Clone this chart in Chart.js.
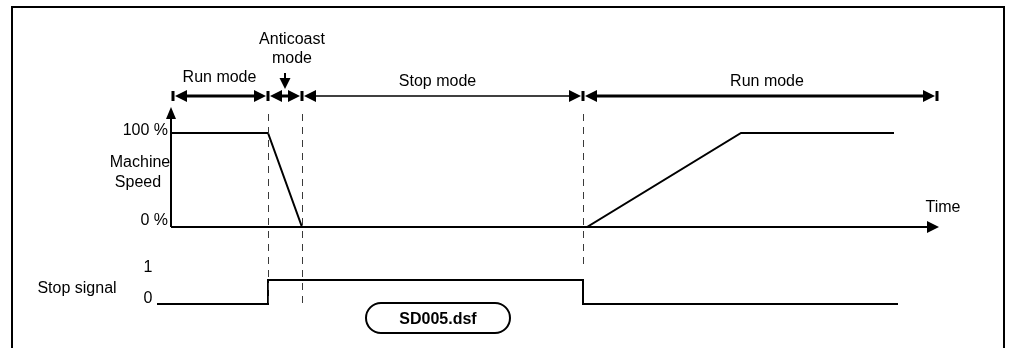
<!DOCTYPE html>
<html><head><meta charset="utf-8">
<script src="https://cdn.jsdelivr.net/npm/chart.js@4/dist/chart.umd.min.js"></script>
<style>html,body{margin:0;padding:0;background:#fff;} #wrap{width:1012px;height:348px;position:relative;}</style>
</head><body><div id="wrap"><canvas id="c"></canvas></div>
<script>
// Time in arbitrary units
const speedTimes = [0, 9.7, 13.1, 41.6, 57.0, 72.3];
const speedValues = [100, 100, 0, 0, 100, 100];
const signalTimes = [-1.4, 9.7, 9.7, 41.2, 41.2, 72.7];
const signalValues = [0, 0, 1, 1, 0, 0];
const modeBounds = [0.2, 9.7, 13.1, 41.2, 76.6];
const modeNames = ['Run mode', 'Anticoast\nmode', 'Stop mode', 'Run mode'];
const markerTimes = [9.7, 13.1, 41.2];
const speedTicks = [100, 0];
const speedTickLabels = ['100 %', '0 %'];
const signalTicks = [1, 0];
const signalTickLabels = ['1', '0'];
const timeAxisEnd = 76.8;
const speedTitle = ['Machine', 'Speed'];
const signalTitle = 'Stop signal';
const timeTitle = 'Time';
const fileLabel = 'SD005.dsf';

const FONT = '"Liberation Sans", Arial, sans-serif';
const toXY = (xs, ys) => xs.map((x, i) => ({x, y: ys[i]}));

function arrowHead(ctx, tipX, tipY, dir, len, half) {
  ctx.beginPath();
  if (dir === 'left') { ctx.moveTo(tipX, tipY); ctx.lineTo(tipX + len, tipY - half); ctx.lineTo(tipX + len, tipY + half); }
  else if (dir === 'right') { ctx.moveTo(tipX, tipY); ctx.lineTo(tipX - len, tipY - half); ctx.lineTo(tipX - len, tipY + half); }
  else if (dir === 'up') { ctx.moveTo(tipX, tipY); ctx.lineTo(tipX - half, tipY + len); ctx.lineTo(tipX + half, tipY + len); }
  else { ctx.moveTo(tipX, tipY); ctx.lineTo(tipX - half, tipY - len); ctx.lineTo(tipX + half, tipY - len); }
  ctx.closePath(); ctx.fill();
}

const diagramPlugin = {
  id: 'diagram',
  afterDatasetsDraw(chart) {
    const ctx = chart.ctx;
    const xs = chart.scales.x, ys = chart.scales.ySpeed, yg = chart.scales.ySig;
    const X = v => xs.getPixelForValue(v);
    const y0 = ys.getPixelForValue(0), y100 = ys.getPixelForValue(100);
    const g0 = yg.getPixelForValue(0), g1 = yg.getPixelForValue(1);
    ctx.save();
    ctx.fillStyle = '#000'; ctx.strokeStyle = '#000';

    // frame
    ctx.lineWidth = 2;
    ctx.beginPath();
    ctx.moveTo(12, 360); ctx.lineTo(12, 7); ctx.lineTo(1004, 7); ctx.lineTo(1004, 360);
    ctx.stroke();

    // dashed markers
    ctx.save();
    ctx.strokeStyle = '#3a3a3a'; ctx.lineWidth = 1; ctx.setLineDash([7, 6]);
    const rowY = y100 - 37;
    markerTimes.forEach((t, i) => {
      const px = Math.round(X(t)) + 0.5;
      const bottom = i < 2 ? g0 + 4 : g1 - 16;
      ctx.beginPath(); ctx.moveTo(px, rowY + 18); ctx.lineTo(px, bottom); ctx.stroke();
    });
    ctx.restore();

    // axes
    ctx.lineWidth = 2;
    const ax = X(0);
    ctx.beginPath(); ctx.moveTo(ax, y0); ctx.lineTo(ax, y100 - 14); ctx.stroke();
    arrowHead(ctx, ax, y100 - 26, 'up', 12, 5);
    const tEnd = X(timeAxisEnd);
    ctx.beginPath(); ctx.moveTo(ax, y0); ctx.lineTo(tEnd - 10, y0); ctx.stroke();
    arrowHead(ctx, tEnd, y0, 'right', 12, 6);

    // mode dimension row
    for (let i = 0; i < modeNames.length; i++) {
      const a = X(modeBounds[i]), b = X(modeBounds[i + 1]);
      ctx.lineWidth = i === 2 ? 1.5 : 3;
      ctx.beginPath(); ctx.moveTo(a + 8, rowY); ctx.lineTo(b - 8, rowY); ctx.stroke();
      arrowHead(ctx, a + 2, rowY, 'left', 12, 6);
      arrowHead(ctx, b - 2, rowY, 'right', 12, 6);
    }
    modeBounds.forEach(t => { const px = X(t); ctx.fillRect(px - 1.5, rowY - 5, 3, 10); });

    // mode labels
    ctx.font = '16px ' + FONT; ctx.textAlign = 'center'; ctx.textBaseline = 'alphabetic';
    const labelDx = [-1, 7, -5, 7];
    const labelDy = [-14, -52, -10, -10];
    modeNames.forEach((name, i) => {
      const mid = (X(modeBounds[i]) + X(modeBounds[i + 1])) / 2 + labelDx[i];
      const lines = name.split('\n');
      lines.forEach((ln, k) => ctx.fillText(ln, mid, rowY + labelDy[i] + k * 19));
    });
    // anticoast pointer arrow
    const acx = (X(modeBounds[1]) + X(modeBounds[2])) / 2;
    ctx.lineWidth = 2;
    ctx.beginPath(); ctx.moveTo(acx, rowY - 23); ctx.lineTo(acx, rowY - 12); ctx.stroke();
    arrowHead(ctx, acx, rowY - 7, 'down', 11, 5.5);

    // tick labels
    ctx.textAlign = 'right';
    speedTicks.forEach((v, i) => ctx.fillText(speedTickLabels[i], ax - 3, ys.getPixelForValue(v) + 2 - (i === 1 ? 4 : 0)));
    ctx.textAlign = 'center';
    ctx.fillText(speedTitle[0], ax - 31, y100 + 34);
    ctx.fillText(speedTitle[1], ax - 33, y100 + 54);
    signalTicks.forEach((v, i) => ctx.fillText(signalTickLabels[i], 148, yg.getPixelForValue(v) - 8 + (i === 1 ? 7 : 0)));
    ctx.fillText(signalTitle, 77, g0 - 11);
    ctx.fillText(timeTitle, tEnd + 4, y0 - 15);

    // file label pill
    const px0 = 366, py0 = 303, pw = 144, ph = 30, r = 15;
    ctx.lineWidth = 2;
    ctx.beginPath();
    ctx.moveTo(px0 + r, py0); ctx.lineTo(px0 + pw - r, py0);
    ctx.arc(px0 + pw - r, py0 + r, r, -Math.PI / 2, Math.PI / 2);
    ctx.lineTo(px0 + r, py0 + ph);
    ctx.arc(px0 + r, py0 + r, r, Math.PI / 2, Math.PI * 1.5);
    ctx.closePath(); ctx.stroke();
    ctx.font = 'bold 16px ' + FONT;
    ctx.fillText(fileLabel, px0 + pw / 2, py0 + 21);
    ctx.restore();
  }
};

new Chart(document.getElementById('c'), {
  type: 'line',
  data: {
    datasets: [
      { data: toXY(speedTimes, speedValues), yAxisID: 'ySpeed', borderColor: '#000', borderWidth: 2, pointRadius: 0, tension: 0, fill: false },
      { data: toXY(signalTimes, signalValues), yAxisID: 'ySig', borderColor: '#000', borderWidth: 2, pointRadius: 0, tension: 0, fill: false }
    ]
  },
  options: {
    responsive: true, maintainAspectRatio: false, animation: false,
    layout: { padding: 0 },
    plugins: { legend: { display: false }, tooltip: { enabled: false } },
    scales: {
      x: { type: 'linear', display: false, min: -17.1, max: 84.1 },
      ySpeed: { type: 'linear', display: false, min: -128.72, max: 241.49 },
      ySig: { type: 'linear', display: false, min: -1.8333, max: 12.6667 }
    }
  },
  plugins: [diagramPlugin]
});
</script></body></html>
